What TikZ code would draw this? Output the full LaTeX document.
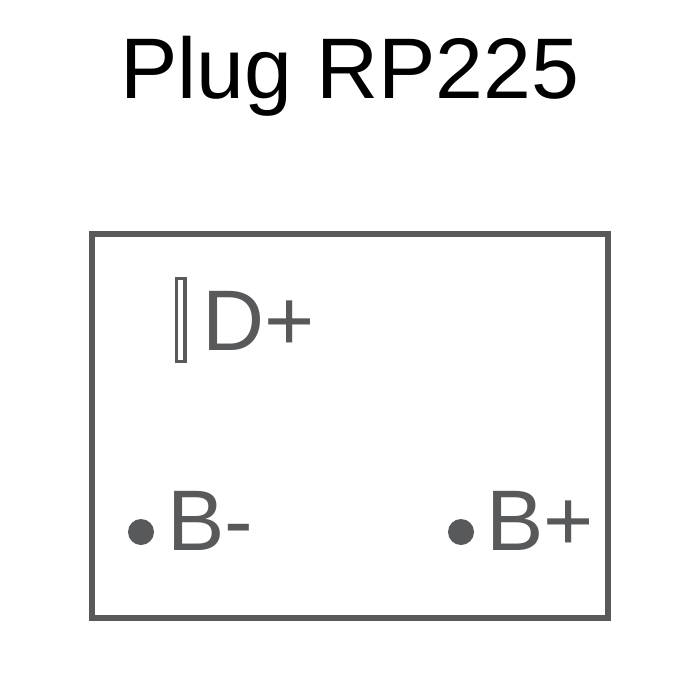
\documentclass[tikz,border=0pt]{standalone}
\usepackage{fontspec}
\setmainfont{Liberation Sans}
\definecolor{plugcol}{RGB}{88,89,91}
\tikzset{pinlabel/.style={text=plugcol,font=\fontsize{86}{86}\selectfont,inner sep=0pt,anchor=base west}}
\begin{document}
\begin{tikzpicture}[x=1pt,y=-1pt]
   \useasboundingbox (0,0) rectangle(700,700);
   \fill[white] (0,0) rectangle(700,700);
   \node[font=\fontsize{86}{86}\selectfont,inner sep=0pt,anchor=base] (title) at (350,99) {Plug RP225};
   \draw[draw=plugcol,line width=6pt] (91.5,234.5) rectangle(607.5,618);
   \draw[draw=plugcol,line width=3.8pt,fill=white] (176.5,278.5) rectangle(185,361.5);
   \node[pinlabel] (dplus) at (202,350) {D+};
   \fill[plugcol] (141,532) circle(13);
   \node[pinlabel] (bminus) at (167,550) {B-};
   \fill[plugcol] (461,532) circle(13);
   \node[pinlabel] (bplus) at (486,550) {B+};
  \end{tikzpicture}
\end{document}
